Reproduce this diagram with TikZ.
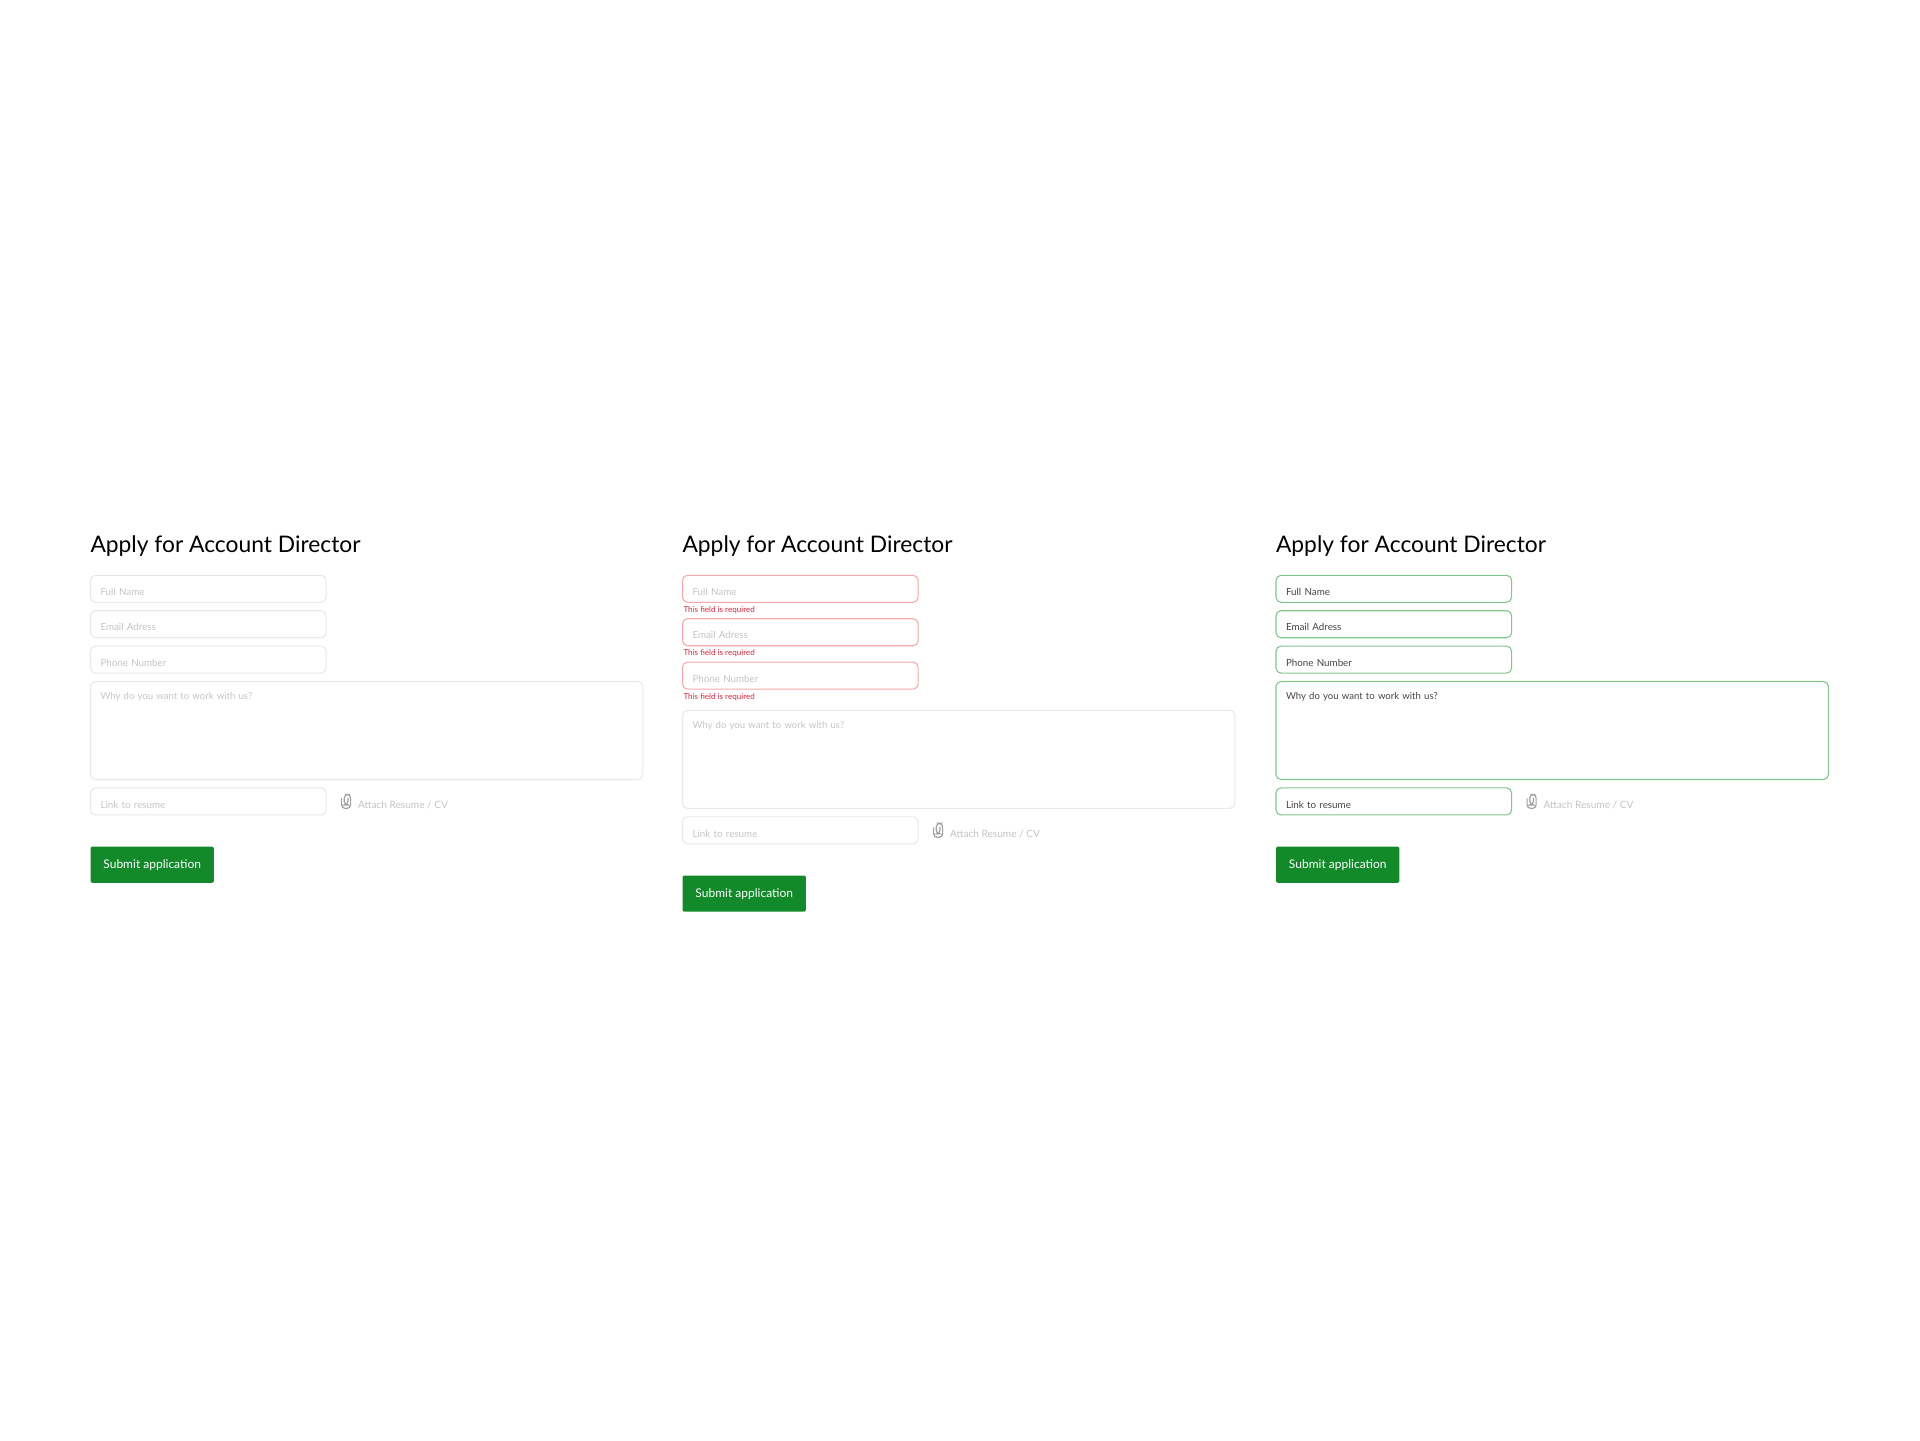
\documentclass[tikz,border=0pt]{standalone}
\usepackage{fontspec}
\setmainfont{Lato}
\usetikzlibrary{positioning}
\definecolor{hintgray}{HTML}{C4C4C4}
\definecolor{linegray}{HTML}{E8E8E8}
\definecolor{clipgray}{HTML}{A0A0A0}
\definecolor{badline}{HTML}{F6A9AB}
\definecolor{badtext}{HTML}{D9253A}
\definecolor{goodline}{HTML}{7FC78F}
\definecolor{goodtext}{HTML}{444444}
\definecolor{submitgreen}{HTML}{128A2A}
\begin{document}
\begin{tikzpicture}[x=0.5pt, y=-0.5pt,
                    titlenode/.style={inner sep=0pt, outer sep=0pt, anchor=base west, text=black, font=\fontsize{11.4}{14}\selectfont},
                    fieldnode/.style={rectangle, rounded corners=2.5pt, draw=linegray, line width=0.55pt, outer sep=0pt, anchor=north west, inner xsep=5pt, inner ysep=0pt, text width=107.8pt, align=left, text height=10.1pt, text depth=3.4pt, text=hintgray, font=\fontsize{4.9}{6}\selectfont},
                    areanode/.style={fieldnode, text width=266.2pt, text height=8.85pt, text depth=40.15pt, font=\fontsize{4.78}{6}\selectfont},
                    badnode/.style={draw=badline},
                    goodnode/.style={draw=goodline, text=goodtext},
                    errornode/.style={inner sep=0pt, outer sep=0pt, anchor=base west, xshift=0.5pt, text=badtext, font=\fontsize{4.05}{5}\selectfont},
                    attachnode/.style={inner sep=0pt, outer sep=0pt, text height=10.1pt, text depth=3.4pt, text=hintgray, font=\fontsize{5.05}{6}\selectfont},
                    submitnode/.style={rectangle, rounded corners=1pt, fill=submitgreen, outer sep=0pt, anchor=north west, minimum width=61.7pt, minimum height=18.1pt, inner sep=0pt, text=white, font=\fontsize{6}{7}\selectfont},
                    pics/clipicon/.style={code={
                        \draw[clipgray, line width=0.6pt, rounded corners=1.8pt] (-4.5,-3) -- (-4.5,7) -- (4.5,7) -- (4.5,-7) -- (-1.8,-7) -- (-1.8,3.5) -- (1.8,3.5) -- (1.8,-3.5);
                    }}]
    \useasboundingbox (0,0) rectangle (1920,1440);

    % empty form
    \node[titlenode] (title-0) at (90.5,552.5) {Apply for Account Director};
    \node[below=11.4pt of title-0.base west, fieldnode] (name-0) {Full Name};
    \node[below=4.2pt of name-0.south west, fieldnode] (mail-0) {Email Adress};
    \node[below=4.2pt of mail-0.south west, fieldnode] (phone-0) {Phone Number};
    \node[below=4.2pt of phone-0.south west, areanode] (why-0) {Why do you want to work with us?};
    \node[below=4.2pt of why-0.south west, fieldnode] (link-0) {Link to resume};
    \coordinate[right=10pt of link-0.east] (clip-0);
    \pic at (clip-0) {clipicon};
    \node[attachnode, right=16pt of link-0.east] (attach-0) {Attach Resume / CV};
    \node[below=15.85pt of link-0.south west, submitnode] (submit-0) {Submit application};

    % form with errors
    \node[titlenode] (title-1) at (682.5,552.5) {Apply for Account Director};
    \node[below=11.4pt of title-1.base west, fieldnode, badnode] (name-1) {Full Name};
    \node[below=5pt of name-1.south west, errornode] (nameerror-1) {This field is required};
    \node[below=8.2pt of name-1.south west, fieldnode, badnode] (mail-1) {Email Adress};
    \node[below=5pt of mail-1.south west, errornode] (mailerror-1) {This field is required};
    \node[below=8.2pt of mail-1.south west, fieldnode, badnode] (phone-1) {Phone Number};
    \node[below=5pt of phone-1.south west, errornode] (phoneerror-1) {This field is required};
    \node[below=10.65pt of phone-1.south west, areanode] (why-1) {Why do you want to work with us?};
    \node[below=4.2pt of why-1.south west, fieldnode] (link-1) {Link to resume};
    \coordinate[right=10pt of link-1.east] (clip-1);
    \pic at (clip-1) {clipicon};
    \node[attachnode, right=16pt of link-1.east] (attach-1) {Attach Resume / CV};
    \node[below=15.85pt of link-1.south west, submitnode] (submit-1) {Submit application};

    % filled form
    \node[titlenode] (title-2) at (1276,552.5) {Apply for Account Director};
    \node[below=11.4pt of title-2.base west, fieldnode, goodnode] (name-2) {Full Name};
    \node[below=4.2pt of name-2.south west, fieldnode, goodnode] (mail-2) {Email Adress};
    \node[below=4.2pt of mail-2.south west, fieldnode, goodnode] (phone-2) {Phone Number};
    \node[below=4.2pt of phone-2.south west, areanode, goodnode] (why-2) {Why do you want to work with us?};
    \node[below=4.2pt of why-2.south west, fieldnode, goodnode] (link-2) {Link to resume};
    \coordinate[right=10pt of link-2.east] (clip-2);
    \pic at (clip-2) {clipicon};
    \node[attachnode, right=16pt of link-2.east] (attach-2) {Attach Resume / CV};
    \node[below=15.85pt of link-2.south west, submitnode] (submit-2) {Submit application};
\end{tikzpicture}
\end{document}
